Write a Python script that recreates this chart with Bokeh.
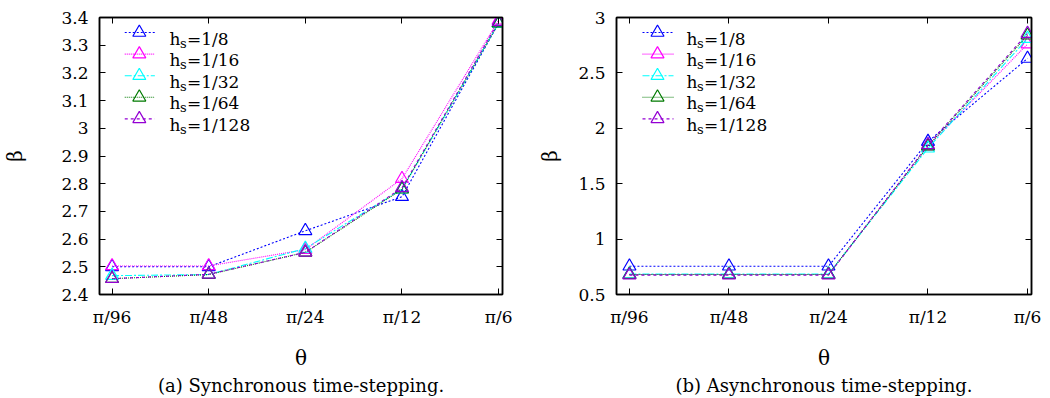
from bokeh.plotting import figure
from bokeh.layouts import row
from bokeh.models import Range1d, FixedTicker, LinearAxis, Label, Title, CustomJSTickFormatter
from bokeh.embed import file_html
from bokeh.resources import INLINE

# ---------------- data ----------------
thetas = ["π/96", "π/48", "π/24", "π/12", "π/6"]
series_names = ["1/8", "1/16", "1/32", "1/64", "1/128"]

sync_h8 = [2.50, 2.50, 2.63, 2.753, 3.38]
sync_h16 = [2.503, 2.503, 2.562, 2.818, 3.39]
sync_h32 = [2.468, 2.472, 2.566, 2.78, 3.38]
sync_h64 = [2.457, 2.472, 2.552, 2.78, 3.38]
sync_h128 = [2.457, 2.473, 2.552, 2.785, 3.385]

async_h8 = [0.755, 0.755, 0.755, 1.88, 2.63]
async_h16 = [0.68, 0.68, 0.68, 1.84, 2.76]
async_h32 = [0.685, 0.685, 0.685, 1.82, 2.81]
async_h64 = [0.68, 0.68, 0.68, 1.84, 2.84]
async_h128 = [0.675, 0.675, 0.675, 1.85, 2.855]

yticks_sync = [2.4, 2.5, 2.6, 2.7, 2.8, 2.9, 3.0, 3.1, 3.2, 3.3, 3.4]
ylabels_sync = ["2.4", "2.5", "2.6", "2.7", "2.8", "2.9", "3", "3.1", "3.2", "3.3", "3.4"]
yticks_async = [0.5, 1.0, 1.5, 2.0, 2.5, 3.0]
ylabels_async = ["0.5", "1", "1.5", "2", "2.5", "3"]

captions = ["(a) Synchronous time-stepping.", "(b) Asynchronous time-stepping."]

# ---------------- style ----------------
colors = ["#0000ff", "#ff00ff", "#00ffff", "#007a00", "#9400d3"]
dashes = ["2 2", "1 1", "7 2 2 2", "1 1", "3 3"]
FONT = "DejaVu Serif"
FW, FH = 415, 277
XR = (-0.13, 4.04)
H = 396


def make_fig(series, yr, yticks, ylabels, caption, left_border, right_border, ylab_standoff):
    p = figure(width=left_border + FW + right_border, height=H,
               x_range=Range1d(*XR), y_range=Range1d(*yr),
               output_backend="svg", toolbar_location=None,
               min_border_left=left_border, min_border_right=right_border,
               min_border_top=17, min_border_bottom=H - 17 - FH)
    p.xgrid.visible = False
    p.ygrid.visible = False
    p.outline_line_color = "black"
    p.outline_line_width = 1.5
    p.background_fill_color = "white"
    p.border_fill_color = "white"

    xs = list(range(len(thetas)))
    xt = FixedTicker(ticks=xs)
    yt = FixedTicker(ticks=yticks)

    ax = p.xaxis[0]
    ax.ticker = xt
    ax.major_label_overrides = {i: t for i, t in zip(xs, thetas)}
    ax.axis_label = "θ"
    ay = p.yaxis[0]
    ay.ticker = yt
    ay.major_label_overrides = {v: s for v, s in zip(yticks, ylabels)}
    ay.axis_label = "β"

    for a in (ax, ay):
        a.major_tick_in = 6
        a.major_tick_out = 0
        a.minor_tick_line_color = None
        a.axis_line_width = 1.5
        a.major_tick_line_width = 1
        a.major_label_text_font = FONT
        a.major_label_text_font_size = "17px"
        a.major_label_text_color = "black"
        a.axis_label_text_font = FONT
        a.axis_label_text_font_size = "20px"
        a.axis_label_text_font_style = "normal"
        a.axis_label_text_color = "black"
    ax.major_label_standoff = 12
    ax.axis_label_standoff = 16
    ay.major_label_standoff = 11
    ay.axis_label_standoff = ylab_standoff

    blank = CustomJSTickFormatter(code="return ''")
    top = LinearAxis(ticker=xt, formatter=blank)
    right = LinearAxis(ticker=yt, formatter=blank)
    for a in (top, right):
        a.major_tick_in = 6
        a.major_tick_out = 0
        a.minor_tick_line_color = None
        a.axis_line_width = 1.5
        a.major_label_standoff = 0
        a.major_label_text_font_size = "0px"
    p.add_layout(top, "above")
    p.add_layout(right, "right")

    for ys, c, d in zip(series, colors, dashes):
        p.line(xs, ys, line_color=c, line_dash=d, line_width=1.1)
        p.scatter(xs, ys, marker="triangle", size=13, fill_color=None,
                  line_color=c, line_width=1.2)

    # legend (top-left, inside frame)
    def to_data(dx, dy):
        return (XR[0] + dx / FW * (XR[1] - XR[0]),
                yr[1] - dy / FH * (yr[1] - yr[0]))

    for i, (name, c, d) in enumerate(zip(series_names, colors, dashes)):
        rowy = 15 + 21.6 * i
        xa, ya = to_data(26, rowy)
        xb, _ = to_data(57, rowy)
        xm, _ = to_data(41, rowy)
        p.line([xa, xb], [ya, ya], line_color=c, line_dash=d, line_width=1.1)
        p.scatter([xm], [ya], marker="triangle", size=13, fill_color=None,
                  line_color=c, line_width=1.2)
        common = dict(x=XR[0], y=yr[1], text_font=FONT, text_color="black",
                      text_baseline="alphabetic", text_align="left")
        p.add_layout(Label(text="h", x_offset=70, y_offset=-(rowy + 6),
                           text_font_size="17px", **common))
        p.add_layout(Label(text="s", x_offset=80.5, y_offset=-(rowy + 10.5),
                           text_font_size="13px", **common))
        p.add_layout(Label(text="=" + name, x_offset=87.5, y_offset=-(rowy + 6),
                           text_font_size="17px", **common))

    cap = Title(text=caption, align="center", text_font=FONT,
                text_font_size="18px", text_font_style="normal",
                text_color="black", standoff=0)
    p.add_layout(cap, "below")
    return p


p1 = make_fig([sync_h8, sync_h16, sync_h32, sync_h64, sync_h128],
              (2.4, 3.4), yticks_sync, ylabels_sync, captions[0], 87, 26, 31)
p2 = make_fig([async_h8, async_h16, async_h32, async_h64, async_h128],
              (0.5, 3.0), yticks_async, ylabels_async, captions[1], 88, 13, 13)

layout = row(p1, p2)
open("out.html", "w").write(file_html(layout, INLINE))
